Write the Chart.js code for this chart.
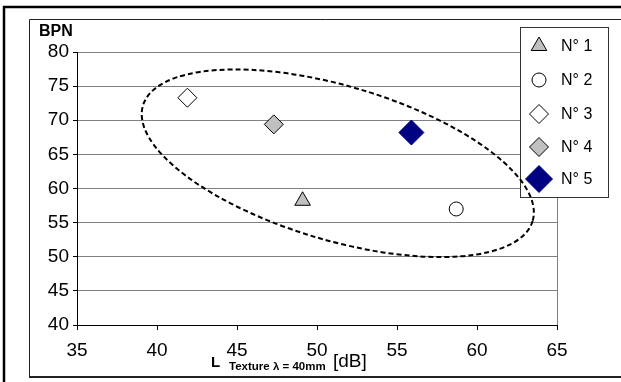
<!DOCTYPE html>
<html><head><meta charset="utf-8">
<script src="https://cdn.jsdelivr.net/npm/chart.js@4.4.1/dist/chart.umd.min.js"></script>
<style>html,body{margin:0;padding:0;background:#fff;overflow:hidden}#wrap{width:621px;height:382px;position:relative}</style>
</head><body><div id="wrap"><canvas id="c" width="621" height="382"></canvas></div>
<script>
// ---- data ----
const seriesNames = ['N° 1', 'N° 2', 'N° 3', 'N° 4', 'N° 5'];
const xValues = [49.1, 58.7, 41.9, 47.3, 55.9];
const yValues = [58.2, 57.0, 73.3, 69.4, 68.2];
const xTicks = [35, 40, 45, 50, 55, 60, 65];
const yTicks = [40, 45, 50, 55, 60, 65, 70, 75, 80];
const yAxisTitle = 'BPN';
const xAxisTitleParts = ['L', 'Texture λ = 40mm', '[dB]'];
// dashed ellipse (center in data units)
const ellipseCenter = { x: 51.3, y: 63.7 };
const ellipseHalfAxes = { major: 12.7, minor: 11.3 }; // major in x-units, minor in y-units

// ---- styles ----
const styles = [
  { pointStyle: 'triangle', bg: '#c0c0c0', border: '#000000', radius: 9 },
  { pointStyle: 'circle', bg: '#ffffff', border: '#000000', radius: 7 },
  { pointStyle: 'rectRot', bg: '#ffffff', border: '#000000', radius: 9.5 },
  { pointStyle: 'rectRot', bg: '#c0c0c0', border: '#000000', radius: 9.5 },
  { pointStyle: 'rectRot', bg: '#000080', border: '#000080', radius: 12.5 }
];
const FONT = "'Liberation Sans', Arial, sans-serif";

const datasets = seriesNames.map((n, i) => ({
  label: n,
  data: [{ x: xValues[i], y: yValues[i] }],
  pointStyle: styles[i].pointStyle,
  pointRadius: styles[i].radius,
  pointHoverRadius: styles[i].radius,
  backgroundColor: styles[i].bg,
  borderColor: styles[i].border,
  pointBorderWidth: 1,
  showLine: false
}));

function drawMarker(ctx, st, x, y, r) {
  ctx.save();
  ctx.fillStyle = st.bg; ctx.strokeStyle = st.border; ctx.lineWidth = 1;
  ctx.beginPath();
  if (st.pointStyle === 'circle') {
    ctx.arc(x, y, r, 0, Math.PI * 2);
  } else if (st.pointStyle === 'triangle') {
    for (let k = 0; k < 3; k++) {
      const a = k * 2 * Math.PI / 3;
      const px = x + Math.sin(a) * r, py = y - Math.cos(a) * r;
      k ? ctx.lineTo(px, py) : ctx.moveTo(px, py);
    }
    ctx.closePath();
  } else {
    ctx.moveTo(x, y - r); ctx.lineTo(x + r, y); ctx.lineTo(x, y + r); ctx.lineTo(x - r, y); ctx.closePath();
  }
  ctx.fill(); ctx.stroke();
  ctx.restore();
}

const decorPlugin = {
  id: 'decor',
  beforeDraw(chart) {
    const ctx = chart.ctx;
    ctx.save();
    ctx.fillStyle = '#fff';
    ctx.fillRect(0, 0, chart.width, chart.height);
    ctx.restore();
  },
  afterDraw(chart) {
    const ctx = chart.ctx;
    const xs = chart.scales.x, ys = chart.scales.y;
    ctx.save();
    // frames
    ctx.strokeStyle = '#000';
    ctx.lineWidth = 2.5;
    ctx.beginPath(); ctx.moveTo(4, 382); ctx.lineTo(4, 7); ctx.lineTo(621, 7); ctx.stroke();
    ctx.lineWidth = 1;
    ctx.strokeStyle = '#222';
    ctx.beginPath(); ctx.moveTo(621, 19.5); ctx.lineTo(29.5, 19.5); ctx.lineTo(29.5, 377); ctx.stroke();
    ctx.lineWidth = 2;
    ctx.beginPath(); ctx.moveTo(29, 377); ctx.lineTo(621, 377); ctx.stroke();

    // y title
    ctx.fillStyle = '#000';
    ctx.font = 'bold 16px ' + FONT;
    ctx.textBaseline = 'alphabetic'; ctx.textAlign = 'left';
    ctx.fillText(yAxisTitle, 39, 36);
    // x title
    ctx.font = 'bold 15px ' + FONT;
    ctx.fillText(xAxisTitleParts[0], 211, 366.5);
    ctx.font = 'bold 11.5px ' + FONT;
    ctx.fillText(xAxisTitleParts[1], 229, 370);
    ctx.font = '19px ' + FONT;
    ctx.fillText(xAxisTitleParts[2], 333, 367);

    // legend
    ctx.fillStyle = '#fff';
    ctx.fillRect(520, 27, 88, 170);
    ctx.strokeStyle = '#333'; ctx.lineWidth = 1;
    ctx.strokeRect(520.5, 27.5, 88, 170);
    const rowY = [46, 80, 114, 147, 179];
    const legR = [9, 7, 9.5, 9.5, 13.5];
    ctx.font = '16px ' + FONT; ctx.textBaseline = 'middle';
    seriesNames.forEach((n, i) => {
      drawMarker(ctx, styles[i], 539, rowY[i], legR[i]);
      ctx.fillStyle = '#000';
      ctx.fillText(n, 561, rowY[i] + 1);
    });

    // dashed ellipse
    const cx = xs.getPixelForValue(ellipseCenter.x), cy = ys.getPixelForValue(ellipseCenter.y);
    const a = xs.getPixelForValue(ellipseCenter.x + ellipseHalfAxes.major) - cx;
    const b = ys.getPixelForValue(ellipseCenter.y - ellipseHalfAxes.minor) - cy;
    ctx.strokeStyle = '#000'; ctx.lineWidth = 2; ctx.setLineDash([5, 3]);
    ctx.beginPath(); ctx.ellipse(cx, cy, a, b, 16.5 * Math.PI / 180, 0, Math.PI * 2); ctx.stroke();
    ctx.restore();
  }
};

new Chart(document.getElementById('c'), {
  type: 'scatter',
  data: { datasets },
  options: {
    responsive: false, animation: false, devicePixelRatio: 1,
    layout: { padding: { top: 52, right: 64, left: 0, bottom: 0 } },
    plugins: { legend: { display: false }, tooltip: { enabled: false } },
    scales: {
      x: {
        type: 'linear', min: xTicks[0], max: xTicks[xTicks.length - 1],
        afterBuildTicks: s => { s.ticks = xTicks.map(v => ({ value: v })); },
        afterFit: s => { s.height = 57; },
        ticks: { color: '#000', font: { family: FONT, size: 19 }, padding: 9, maxRotation: 0, autoSkip: false },
        grid: {
          color: c => (c.tick && c.tick.value === 65) ? '#808080' : 'rgba(0,0,0,0)',
          tickColor: '#000', tickLength: 5, lineWidth: 1
        },
        border: { color: '#000', width: 1 }
      },
      y: {
        type: 'linear', min: yTicks[0], max: yTicks[yTicks.length - 1],
        afterBuildTicks: s => { s.ticks = yTicks.map(v => ({ value: v })); },
        afterFit: s => { s.width = 77; },
        ticks: { color: '#000', font: { family: FONT, size: 19 }, padding: 4 },
        grid: { color: '#808080', tickColor: '#000', tickLength: 4, lineWidth: 1 },
        border: { color: '#000', width: 1 }
      }
    }
  },
  plugins: [decorPlugin]
});
</script></body></html>
